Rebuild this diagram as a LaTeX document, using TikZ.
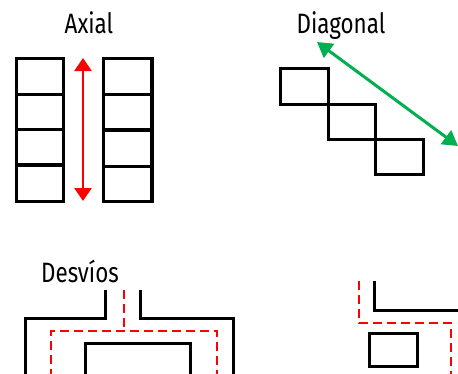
\documentclass[tikz,border=0pt]{standalone}
\usepackage{fontspec}
\setmainfont[FakeStretch=0.8]{Fira Sans}
\usetikzlibrary{arrows.meta}
\definecolor{arrred}{RGB}{255,0,0}
\definecolor{arrgreen}{RGB}{0,176,80}
\tikzset{
  wall/.style={draw=black,line width=3pt},
  thickwall/.style={draw=black,line width=3.6pt},
  route/.style={draw=arrred,line width=2.8pt,dash pattern=on 9pt off 5pt},
  title/.style={font=\fontsize{28}{30}\selectfont,inner sep=0pt,anchor=base},
  redarrow/.style={draw=arrred,line width=2.5pt,{Triangle[width=17pt,length=13pt]}-{Triangle[width=17pt,length=13pt]}},
  greenarrow/.style={draw=arrgreen,line width=3pt,{Triangle[width=17pt,length=15pt]}-{Triangle[width=17pt,length=15pt]}}
}
\begin{document}
\begin{tikzpicture}[x=1pt,y=-1pt]
\useasboundingbox (0,0) rectangle (458,373);
% ---------- Axial ----------
\node[title] (taxial) at (89,33) {Axial};
\draw[wall] (16,58) rectangle (63,201);
\draw[wall] (16,94) -- (63,94);
\draw[wall] (16,129) -- (63,129);
\draw[thickwall] (16,165) -- (63,165);
\draw[wall] (103,58) rectangle (152,201);
\draw[thickwall] (152,58) -- (152,201);
\draw[wall] (103,94) -- (152,94);
\draw[thickwall] (103,130) -- (152,130);
\draw[wall] (103,166) -- (152,166);
\coordinate (atop) at (83,58);
\coordinate (abot) at (83,201);
\draw[redarrow] (atop) -- (abot);
% ---------- Diagonal ----------
\node[title] (tdiag) at (341,33) {Diagonal};
\draw[wall] (280,68) rectangle (328,104);
\draw[wall] (328,104) rectangle (375,139);
\draw[wall] (375,139) rectangle (423,174);
\coordinate (gtop) at (317,42);
\coordinate (gbot) at (458,146);
\draw[greenarrow] (gtop) -- (gbot);
% ---------- Desvios ----------
\node[title] (tdesv) at (80,282) {Desvíos};
\draw[wall] (25,378) -- (25,318) -- (105,318) -- (105,290);
\draw[wall] (140,290) -- (140,318) -- (233,318) -- (233,378);
\draw[route] (124,290) -- (124,331);
\draw[route] (51,378) -- (51,331) -- (217,331) -- (217,378);
\draw[wall] (85,378) -- (85,343) -- (190,343) -- (190,378);
% ---------- right bottom ----------
\draw[wall] (374,281) -- (374,310) -- (462,310);
\draw[route] (359,281) -- (359,323) -- (451,323) -- (451,378);
\draw[wall] (369,333) rectangle (417,366);
\end{tikzpicture}
\end{document}
